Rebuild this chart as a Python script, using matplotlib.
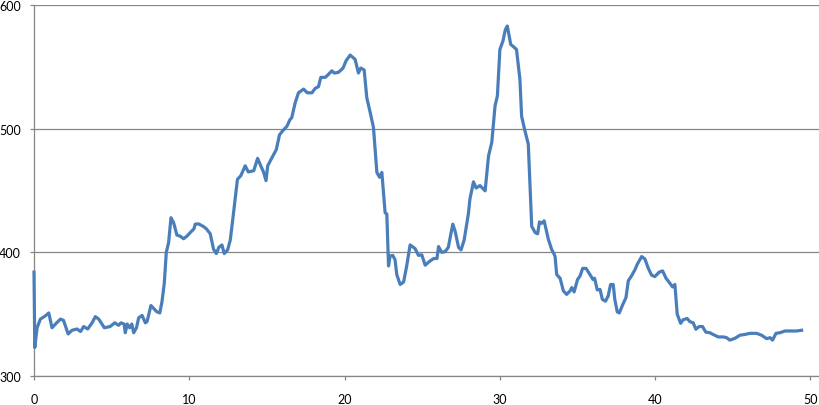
import matplotlib
matplotlib.use("Agg")
import matplotlib.pyplot as plt

# values (x, y)
x_vals = [0.0, 0.05, 0.2, 0.41, 0.73, 0.95, 1.16, 1.38, 1.7, 1.9, 2.2, 2.45, 2.77, 3.0, 3.2, 3.46,
          3.74, 3.95, 4.17, 4.53, 4.9, 5.2, 5.45, 5.6, 5.8, 5.88, 6.0, 6.16, 6.3, 6.42, 6.6, 6.74,
          6.96, 7.17, 7.28, 7.53, 7.9, 8.1, 8.24, 8.39, 8.52, 8.67, 8.82, 8.99, 9.2, 9.42, 9.63,
          9.84, 10.06, 10.3, 10.38, 10.6, 10.9, 11.1, 11.35, 11.56, 11.74, 11.9, 12.1, 12.25,
          12.47, 12.64, 12.85, 13.1, 13.32, 13.6, 13.8, 14.15, 14.4, 14.6, 14.78, 14.94, 15.05,
          15.3, 15.6, 15.81, 16.0, 16.29, 16.47, 16.6, 16.82, 17.03, 17.36, 17.6, 17.9, 18.1,
          18.32, 18.47, 18.76, 18.97, 19.18, 19.33, 19.6, 19.9, 20.1, 20.36, 20.68, 20.89, 21.04,
          21.26, 21.43, 21.65, 21.86, 22.08, 22.25, 22.4, 22.61, 22.72, 22.83, 22.93, 23.1, 23.25,
          23.36, 23.58, 23.8, 24.0, 24.22, 24.54, 24.76, 24.97, 25.19, 25.5, 25.75, 25.95, 26.05,
          26.25, 26.47, 26.68, 26.8, 26.97, 27.12, 27.34, 27.5, 27.7, 27.97, 28.07, 28.3, 28.47,
          28.72, 29.05, 29.27, 29.48, 29.69, 29.84, 30.0, 30.2, 30.35, 30.48, 30.7, 30.86, 31.07,
          31.29, 31.4, 31.6, 31.83, 32.05, 32.27, 32.43, 32.55, 32.7, 32.85, 33.12, 33.33, 33.55,
          33.66, 33.88, 34.09, 34.3, 34.52, 34.63, 34.78, 35.0, 35.17, 35.33, 35.55, 35.8, 36.0,
          36.1, 36.27, 36.45, 36.6, 36.8, 36.97, 37.13, 37.3, 37.4, 37.56, 37.69, 37.95, 38.12,
          38.27, 38.48, 38.7, 38.85, 39.13, 39.34, 39.56, 39.77, 39.98, 40.26, 40.48, 40.7, 40.95,
          41.12, 41.27, 41.42, 41.64, 41.8, 42.06, 42.23, 42.45, 42.62, 42.83, 43.05, 43.26,
          43.52, 43.73, 44.06, 44.38, 44.6, 44.81, 45.14, 45.46, 45.78, 46.1, 46.53, 46.85, 47.18,
          47.4, 47.56, 47.78, 48.04, 48.36, 48.79, 49.1, 49.43]
y_vals = [384, 323, 339, 346, 348.6, 351, 339, 342, 346, 345, 334, 337, 338, 336, 340, 338,
          343, 348, 346, 339, 340, 343, 341, 343, 342, 335, 342, 339, 342, 335, 339, 347,
          349, 343, 344, 357, 352, 351, 360, 375, 400, 408, 428, 424, 414, 413, 411,
          413, 416, 419, 422.8, 423, 421, 419, 415, 402.6, 399, 404, 406, 399,
          402, 410, 432, 459, 462, 470, 465, 466, 476, 470, 465, 458, 470,
          476, 483, 495, 498, 502, 507, 509, 521, 529, 532, 529, 529, 532.5,
          534, 541.5, 541.5, 544, 546.8, 545, 545.5, 549, 555, 559.5, 556, 545, 549,
          547.5, 525, 513, 501, 464.6, 460.7, 464.6, 432, 431, 389, 397, 397.5, 394,
          382, 374, 376, 389, 406, 403, 397.5, 398, 389.6, 393, 395, 395, 404.7,
          400, 400.5, 404, 412, 422.8, 417, 404, 402, 410, 431, 443, 457, 452,
          454, 449.7, 478, 489, 518.5, 526.5, 564, 571, 580, 583, 568, 566.5, 564,
          540, 510, 499, 487.5, 421, 416, 415, 424.6, 423.5, 425.5, 410.6, 402.5, 397,
          382, 379, 368.8, 366, 368.8, 371.5, 368, 378, 381, 387, 387, 382, 378,
          379, 369.6, 370, 362, 360.5, 364.6, 374, 374, 362, 351.8, 351, 358.8, 363.4,
          377, 381, 386, 390.4, 396.6, 394.6, 387, 381.5, 380.4, 384, 385, 379, 375,
          372, 374, 350, 342.6, 345.5, 346.5, 344, 343, 337.8, 340, 340, 335.5,
          335, 333.6, 331.6, 331.6, 331, 329, 330.5, 333, 333.6, 334.5, 334.5, 333, 330.2,
          331, 329, 334.5, 335, 336.4, 336.4, 336.4, 337]

x_ticks = [0, 10, 20, 30, 40, 50]
y_ticks = [300, 400, 500, 600]


def plot():
	plt.rcParams['font.family'] = ['Lato', 'DejaVu Sans']
	fig = plt.figure(figsize=(8.19, 4.06), dpi=100)
	ax = fig.add_axes([34 / 819, 29 / 406, 785 / 819, 371 / 406])

	ax.plot(x_vals, y_vals, color='#4a7ebb', linewidth=2.3, solid_joinstyle='round',
			clip_on=False, zorder=3)

	ax.set_xlim(0, 50.55)
	ax.set_ylim(300, 600)
	ax.set_xticks(x_ticks)
	ax.set_yticks(y_ticks)
	ax.yaxis.grid(True, color='#868686', linewidth=0.9)
	ax.set_axisbelow(True)

	for side in ['top', 'right']:
		ax.spines[side].set_visible(False)
	for side in ['left', 'bottom']:
		ax.spines[side].set_color('#868686')
		ax.spines[side].set_linewidth(0.9)
	ax.tick_params(axis='both', colors='#868686', length=3, width=0.9, labelsize=9,
				   labelcolor='black')
	ax.tick_params(axis='x', pad=9)
	ax.tick_params(axis='y', pad=6.5)

	fig.savefig("out.png", dpi=100)


def main():
	plot()


if __name__ == "__main__":
	main()
